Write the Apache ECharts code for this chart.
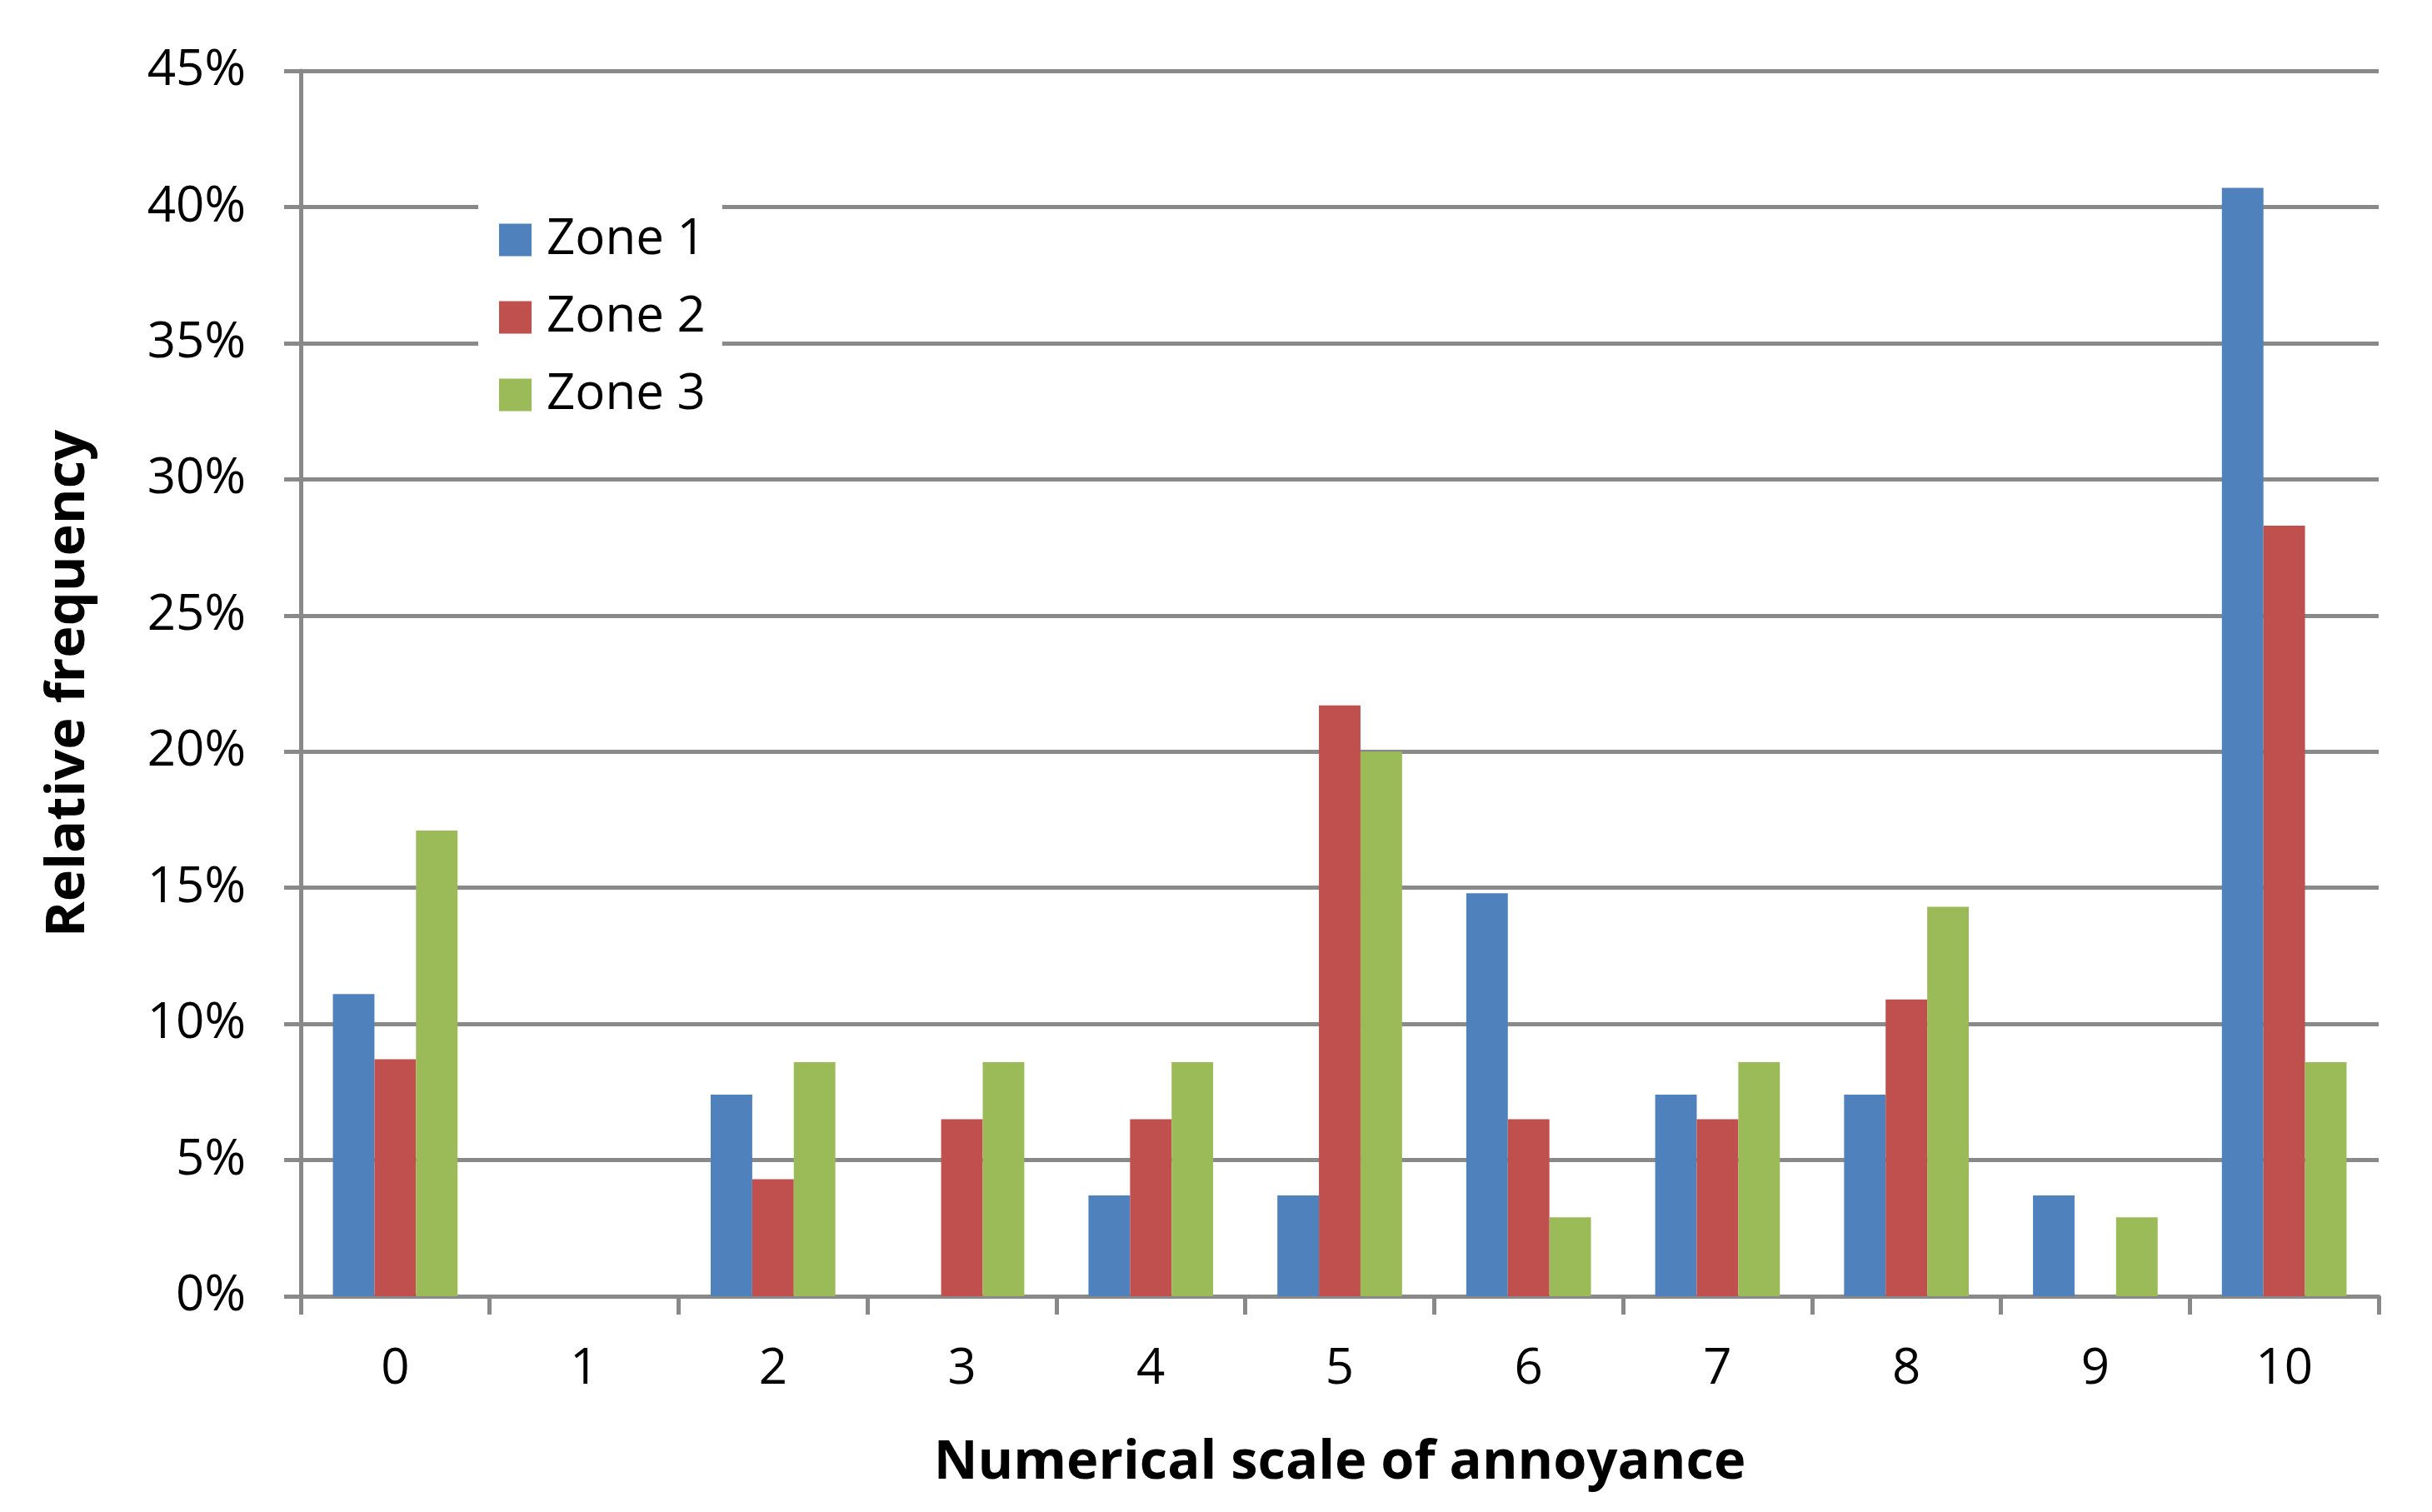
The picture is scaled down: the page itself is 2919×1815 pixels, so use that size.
<!DOCTYPE html>
<html>
<head>
<meta charset="utf-8">
<script src="https://cdn.jsdelivr.net/npm/echarts@6/dist/echarts.min.js"></script>
<style>
html,body{margin:0;padding:0;background:#fff;}
#c{width:2919px;height:1815px;}
</style>
</head>
<body>
<div id="c"></div>
<script>
const categories = ['0','1','2','3','4','5','6','7','8','9','10'];
const zone1 = [11.1, 0, 7.4, 0, 3.7, 3.7, 14.8, 7.4, 7.4, 3.7, 40.7];
const zone2 = [8.7, 0, 4.3, 6.5, 6.5, 21.7, 6.5, 6.5, 10.9, 0, 28.3];
const zone3 = [17.1, 0, 8.6, 8.6, 8.6, 20.0, 2.9, 8.6, 14.3, 2.9, 8.6];
const seriesNames = ['Zone 1', 'Zone 2', 'Zone 3'];
const colors = ['#4F81BD', '#C0504D', '#9BBB59'];

const FONT = '"Open Sans", "Noto Sans", sans-serif';
const axisGray = '#898989';

const chart = echarts.init(document.getElementById('c'), null, {renderer: 'canvas'});
const data = [zone1, zone2, zone3];
chart.setOption({
  animation: false,
  backgroundColor: '#ffffff',
  color: colors,
  grid: {left: 361, right: 64, top: 85, bottom: 259, containLabel: false},
  legend: {
    data: seriesNames,
    orient: 'vertical',
    left: 574,
    top: 236,
    backgroundColor: '#ffffff',
    padding: [22, 20, 22, 25],
    itemWidth: 39,
    itemHeight: 39,
    itemGap: 33,
    icon: 'rect',
    textStyle: {fontFamily: FONT, fontSize: 60, color: '#000', lineHeight: 60, padding: [0, 0, 0, 13]}
  },
  xAxis: {
    type: 'category',
    data: categories,
    boundaryGap: true,
    name: 'Numerical scale of annoyance',
    nameLocation: 'middle',
    nameGap: 168,
    nameTextStyle: {fontFamily: FONT, fontSize: 65, fontWeight: 'bold', color: '#000'},
    axisLine: {show: true, lineStyle: {color: axisGray, width: 5}},
    axisTick: {show: true, alignWithLabel: false, length: 22, lineStyle: {color: axisGray, width: 5}},
    axisLabel: {fontFamily: FONT, fontSize: 60, color: '#000', margin: 58},
    splitLine: {show: false}
  },
  yAxis: {
    type: 'value',
    min: 0,
    max: 45,
    interval: 5,
    name: 'Relative frequency',
    nameLocation: 'middle',
    nameGap: 246,
    nameRotate: 90,
    nameTextStyle: {fontFamily: FONT, fontSize: 65, fontWeight: 'bold', color: '#000'},
    axisLine: {show: true, lineStyle: {color: axisGray, width: 5}},
    axisTick: {show: true, length: 20, lineStyle: {color: axisGray, width: 5}},
    axisLabel: {fontFamily: FONT, fontSize: 60, color: '#000', margin: 66, formatter: '{value}%'},
    splitLine: {show: true, lineStyle: {color: axisGray, width: 5}}
  },
  series: seriesNames.map((n, i) => ({
    name: n,
    type: 'bar',
    data: data[i],
    barGap: '0%',
    barCategoryGap: '34%',
    itemStyle: {color: colors[i]}
  }))
});
</script>
</body>
</html>
